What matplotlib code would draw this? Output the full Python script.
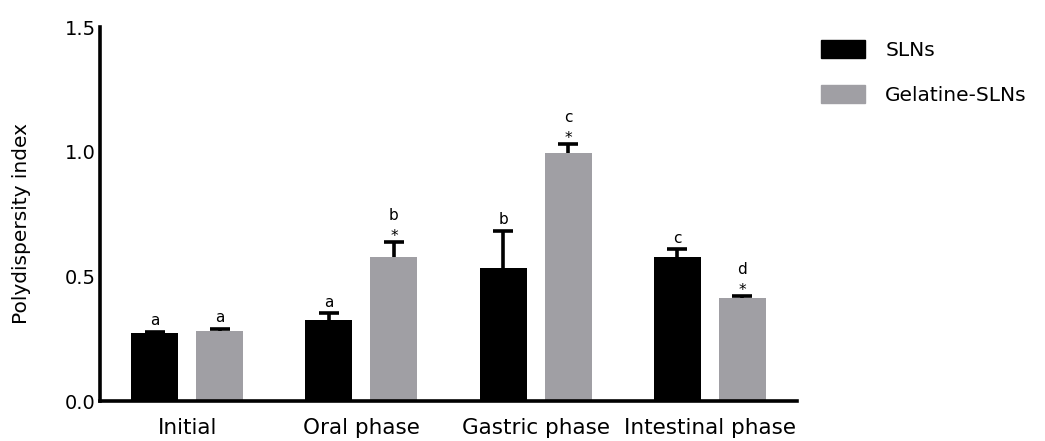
import numpy as np
import matplotlib
matplotlib.use("Agg")
import matplotlib.pyplot as plt
from matplotlib.patches import Patch

# ==========================================
# DATA
# ==========================================
phases = ["Initial", "Oral phase", "Gastric phase", "Intestinal phase"]

sln_mean = [0.274, 0.325, 0.532, 0.576]
sln_err = [0.003, 0.027, 0.150, 0.032]
sln_letters = ["a", "a", "b", "c"]
sln_star = [False, False, False, False]

gel_mean = [0.281, 0.579, 0.994, 0.412]
gel_err = [0.009, 0.060, 0.036, 0.010]
gel_letters = ["a", "b", "c", "d"]
gel_star = [False, True, True, True]

series_names = ["SLNs", "Gelatine-SLNs"]

# ==========================================
# STYLE
# ==========================================
BLACK = "#000000"
GREY = "#a09fa4"
BAR_W = 0.27
OFFSET = 0.187
LW = 2.6

plt.rcParams["font.family"] = ["DejaVu Sans"]

fig = plt.figure(figsize=(10.45, 4.41), dpi=100)
ax = fig.add_axes([0.0957, 0.0907, 0.667, 0.848])

x = np.arange(len(phases))


# bars with upward-only error bars (stem + top cap)
def draw_series(xpos, mean, err, color):
    ax.bar(xpos, mean, BAR_W, color=color, zorder=2)
    mean = np.asarray(mean)
    err = np.asarray(err)
    ax.vlines(xpos, mean, mean + err, color="black", linewidth=LW, zorder=3)
    ax.plot(xpos, mean + err, linestyle="none", marker="_", markersize=15,
            markeredgewidth=LW, color="black", zorder=3)


draw_series(x - OFFSET, sln_mean, sln_err, BLACK)
draw_series(x + OFFSET, gel_mean, gel_err, GREY)


# significance letters and asterisks above the error bars
def mark(xpos, top, letter, star):
    if star:
        ax.annotate("*", (xpos, top), xytext=(0, 4), textcoords="offset points",
                    ha="center", va="center", fontsize=11)
        ax.annotate(letter, (xpos, top), xytext=(0, 19), textcoords="offset points",
                    ha="center", va="center", fontsize=11)
    else:
        ax.annotate(letter, (xpos, top), xytext=(0, 8), textcoords="offset points",
                    ha="center", va="center", fontsize=11)


for i in range(len(phases)):
    mark(x[i] - OFFSET, sln_mean[i] + sln_err[i], sln_letters[i], sln_star[i])
    mark(x[i] + OFFSET, gel_mean[i] + gel_err[i], gel_letters[i], gel_star[i])

# ==========================================
# AXES
# ==========================================
ax.set_xlim(-0.5, 3.5)
ax.set_ylim(0, 1.5)
ax.set_yticks([0.0, 0.5, 1.0, 1.5])
ax.set_yticklabels(["0.0", "0.5", "1.0", "1.5"])
ax.set_xticks(x)
ax.set_xticklabels(phases, fontsize=15.5)
ax.tick_params(axis="y", length=0, pad=3, labelsize=14)
ax.tick_params(axis="x", length=0, pad=12)

for side in ["top", "right"]:
    ax.spines[side].set_visible(False)
for side in ["left", "bottom"]:
    ax.spines[side].set_linewidth(LW)

fig.text(0.021, 0.494, "Polydispersity index", rotation=90,
         ha="center", va="center", fontsize=14.5)

handles = [Patch(color=BLACK), Patch(color=GREY)]
fig.legend(handles, series_names, loc="upper left",
           bbox_to_anchor=(0.768, 0.95), frameon=False, fontsize=14.5,
           handlelength=2.2, handleheight=1.0, handletextpad=1.0,
           labelspacing=1.25)

fig.savefig("out.png", dpi=100)
